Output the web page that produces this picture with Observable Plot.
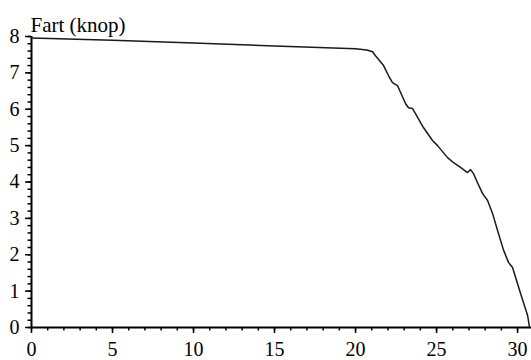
<!DOCTYPE html>
<html>
<head>
<meta charset="utf-8">
<script src="https://cdn.jsdelivr.net/npm/d3@7"></script>
<script src="https://cdn.jsdelivr.net/npm/@observablehq/plot@0.6"></script>
<style>
  html, body { margin: 0; padding: 0; background: #fff; }
</style>
</head>
<body>
<div id="chart"></div>
<script>
// Fart (knop) mot tid
const tid  = [0, 5, 10, 15, 20, 20.7, 21.05, 21.23, 21.73, 22.04, 22.28, 22.59, 22.78, 23.09, 23.27, 23.52, 23.7, 24.2, 24.75, 25.06, 25.68, 26.05, 26.48, 26.91, 27.1, 27.28, 27.53, 27.84, 28.15, 28.46, 28.77, 29.14, 29.44, 29.69, 30.19, 30.62, 30.74];
const fart = [7.96, 7.9, 7.82, 7.74, 7.66, 7.63, 7.58, 7.47, 7.2, 6.92, 6.73, 6.65, 6.46, 6.15, 6.04, 6.02, 5.88, 5.49, 5.14, 5.0, 4.67, 4.53, 4.4, 4.26, 4.34, 4.23, 3.98, 3.68, 3.49, 3.13, 2.66, 2.12, 1.79, 1.65, 0.93, 0.33, 0];

const xMajor = [0, 5, 10, 15, 20, 25, 30];
const xMinor = d3.range(0, 31, 1);
const yMajor = [0, 1, 2, 3, 4, 5, 6, 7, 8];
const yMinor = d3.range(0, 8.01, 0.2).map(v => +v.toFixed(1));
const tittel = "Fart (knop)";

const data = tid.map((t, i) => ({t, v: fart[i]}));

const font = "Liberation Serif, DejaVu Serif, serif";

const chart = Plot.plot({
  width: 531,
  height: 360,
  marginLeft: 31,
  marginRight: 0,
  marginTop: 36,
  marginBottom: 33,
  style: {fontSize: "20px", color: "#000", background: "#fff"},
  x: {domain: [0, 30.86]},
  y: {domain: [0, 8]},
  marks: [
    // minor ticks
    Plot.axisX(xMinor, {tickSize: 3.5, strokeWidth: 1.5, text: null, label: null}),
    Plot.axisY(yMinor, {tickSize: 3.5, strokeWidth: 1.5, text: null, label: null}),
    // major ticks with labels
    Plot.axisX(xMajor, {tickSize: 6, tickPadding: 8, strokeWidth: 1.5, label: null, fontSize: 20, fontFamily: font}),
    Plot.axisY(yMajor, {tickSize: 6, tickPadding: 6, strokeWidth: 1.5, label: null, fontSize: 20, fontFamily: font}),
    // axis lines
    Plot.ruleY([0], {strokeWidth: 2, stroke: "#000"}),
    Plot.ruleX([0], {strokeWidth: 2, stroke: "#000"}),
    // speed curve
    Plot.line(data, {x: "t", y: "v", stroke: "#1a1a1a", strokeWidth: 1.5}),
    // axis title
    Plot.text([tittel], {frameAnchor: "top-left", dx: -1, dy: -5, textAnchor: "start", lineAnchor: "bottom", fontSize: 21, fontFamily: font, fill: "#000"})
  ]
});

document.getElementById("chart").appendChild(chart);
</script>
</body>
</html>
